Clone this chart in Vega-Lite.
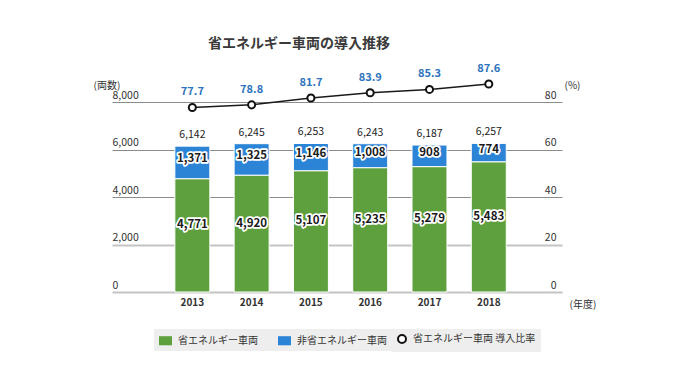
{
  "$schema": "https://vega.github.io/schema/vega-lite/v6.json",
  "autosize": "none",
  "width": 450,
  "height": 190,
  "padding": {"left": 112, "top": 102, "right": 118, "bottom": 83},
  "background": "white",
  "config": {
    "view": {"stroke": null},
    "font": "Noto Sans CJK JP",
    "axisLeft": {
      "labelAlign": "left", "labelBaseline": "bottom", "labelPadding": 0, "labelOffset": -2,
      "ticks": false, "domain": false, "labelFlush": false, "labelFontSize": 10.5, "labelColor": "#333333",
      "titleAngle": 0, "titleX": -19, "titleY": -17, "titleAlign": "left", "titleBaseline": "middle",
      "titleFontSize": 10, "titleFontWeight": "normal", "titleColor": "#333333", "tickCount": 4,
      "gridColor": {"condition": {"test": "datum.value <= 2000", "value": "#c4c4c4"}, "value": "#8c8c8c"},
      "gridWidth": {"condition": {"test": "datum.value <= 2000", "value": 2}, "value": 1}
    },
    "axisRight": {
      "labelAlign": "right", "labelBaseline": "bottom", "labelPadding": -6, "labelOffset": -2,
      "ticks": false, "domain": false, "grid": false, "labelFlush": false, "labelFontSize": 10.5, "labelColor": "#333333",
      "titleAngle": 0, "titleX": 2, "titleY": -17, "titleAlign": "left", "titleBaseline": "middle",
      "titleFontSize": 10, "titleFontWeight": "normal", "titleColor": "#333333", "tickCount": 4
    },
    "legend": {
      "title": null, "orient": "none", "direction": "horizontal", "fillColor": "#eeeeee", "padding": 5,
      "labelFont": "Noto Sans CJK JP", "labelFontSize": 10, "labelColor": "#333333", "labelOffset": 6
    }
  },
  "title": {
    "text": "省エネルギー車両の導入推移",
    "anchor": "start", "frame": "group", "dx": 96, "offset": 12,
    "fontSize": 14, "fontWeight": "bold", "color": "#3a3a3a", "font": "Noto Sans CJK JP"
  },
  "data": {
    "values": [
      {"year": "2013", "eco": 4771, "noneco": 1371, "total": 6142, "rate": 77.7},
      {"year": "2014", "eco": 4920, "noneco": 1325, "total": 6245, "rate": 78.8},
      {"year": "2015", "eco": 5107, "noneco": 1146, "total": 6253, "rate": 81.7},
      {"year": "2016", "eco": 5235, "noneco": 1008, "total": 6243, "rate": 83.9},
      {"year": "2017", "eco": 5279, "noneco": 908, "total": 6187, "rate": 85.3},
      {"year": "2018", "eco": 5483, "noneco": 774, "total": 6257, "rate": 87.6}
    ]
  },
  "encoding": {
    "x": {
      "field": "year", "type": "nominal",
      "scale": {"paddingInner": 0.41, "paddingOuter": 1.16, "align": 0.53},
      "axis": {
        "title": "(年度)", "titleX": 457, "titleY": 12, "titleAlign": "left", "titleBaseline": "middle",
        "titleFontSize": 10, "titleFontWeight": "normal", "titleColor": "#333333",
        "labelAngle": 0, "labelFontSize": 10, "labelFontWeight": "bold", "labelColor": "#333333",
        "labelPadding": 5, "ticks": false, "domain": false
      }
    }
  },
  "layer": [
    {
      "transform": [{"fold": ["eco", "noneco"], "as": ["type", "count"]}],
      "encoding": {
        "y": {"field": "count", "type": "quantitative", "stack": "zero", "title": "(両数)",
              "scale": {"domain": [0, 8000], "nice": false}},
        "order": {"field": "type", "sort": "ascending"}
      },
      "layer": [
        {
          "mark": {"type": "bar", "stroke": "white", "strokeWidth": 1},
          "encoding": {
            "color": {
              "field": "type", "type": "nominal",
              "scale": {"domain": ["eco", "noneco"], "range": ["#5fa03e", "#2b84d6"]},
              "legend": {
                "legendX": 42, "legendY": 227, "columnPadding": 20,
                "symbolType": "M-1,-0.7H1V0.7H-1Z", "symbolSize": 169, "symbolStrokeWidth": 0,
                "labelExpr": "datum.value === 'eco' ? '省エネルギー車両' : '非省エネルギー車両'"
              }
            }
          }
        },
        {
          "mark": {"type": "text", "dy": -10, "fontSize": 11.5, "fontWeight": "bold", "stroke": "white", "strokeWidth": 3.5, "strokeJoin": "round", "fill": "white"},
          "encoding": {
            "y": {"field": "count", "type": "quantitative", "stack": "zero", "bandPosition": 0.5, "title": "(両数)"},
            "detail": {"field": "type"},
            "text": {"condition": {"test": "datum.type === 'eco'", "field": "count", "format": ","}, "value": ""}
          }
        },
        {
          "mark": {"type": "text", "dy": -10, "fontSize": 11.5, "fontWeight": "bold", "fill": "#1a1a1a"},
          "encoding": {
            "y": {"field": "count", "type": "quantitative", "stack": "zero", "bandPosition": 0.5, "title": "(両数)"},
            "detail": {"field": "type"},
            "text": {"condition": {"test": "datum.type === 'eco'", "field": "count", "format": ","}, "value": ""}
          }
        },
        {
          "mark": {"type": "text", "dy": -3, "fontSize": 11.5, "fontWeight": "bold", "stroke": "white", "strokeWidth": 3.5, "strokeJoin": "round", "fill": "white"},
          "encoding": {
            "y": {"field": "count", "type": "quantitative", "stack": "zero", "bandPosition": 0.5, "title": "(両数)"},
            "detail": {"field": "type"},
            "text": {"condition": {"test": "datum.type === 'noneco'", "field": "count", "format": ","}, "value": ""}
          }
        },
        {
          "mark": {"type": "text", "dy": -3, "fontSize": 11.5, "fontWeight": "bold", "fill": "#1a1a1a"},
          "encoding": {
            "y": {"field": "count", "type": "quantitative", "stack": "zero", "bandPosition": 0.5, "title": "(両数)"},
            "detail": {"field": "type"},
            "text": {"condition": {"test": "datum.type === 'noneco'", "field": "count", "format": ","}, "value": ""}
          }
        },
        {
          "transform": [{"filter": "datum.type === 'noneco'"}],
          "mark": {"type": "text", "dy": -11, "fontSize": 10.5, "fill": "#222222"},
          "encoding": {
            "y": {"field": "total", "type": "quantitative", "stack": null, "title": "(両数)"},
            "text": {"field": "total", "format": ","}
          }
        }
      ]
    },
    {
      "encoding": {
        "y": {"field": "rate", "type": "quantitative", "scale": {"domain": [0, 80], "nice": false},
              "axis": {"orient": "right", "title": "(%)", "grid": false}}
      },
      "layer": [
        {
          "mark": {"type": "line", "color": "#1a1a1a", "strokeWidth": 1.5}
        },
        {
          "mark": {"type": "point", "shape": "circle", "filled": false, "fill": "white", "fillOpacity": 1, "strokeWidth": 2, "size": 50, "opacity": 1},
          "encoding": {
            "stroke": {
              "datum": "省エネルギー車両 導入比率",
              "scale": {"range": ["#111111"]},
              "legend": {
                "legendX": 280, "legendY": 227, "symbolType": "circle", "symbolSize": 64,
                "symbolFillColor": "white", "symbolStrokeWidth": 2, "symbolOpacity": 1
              }
            }
          }
        },
        {
          "mark": {"type": "text", "dy": -15, "fill": "#2d73bd", "fontSize": 11, "fontWeight": "bold"},
          "encoding": {"text": {"field": "rate", "format": ".1f"}}
        }
      ]
    }
  ],
  "resolve": {"scale": {"y": "independent"}}
}
